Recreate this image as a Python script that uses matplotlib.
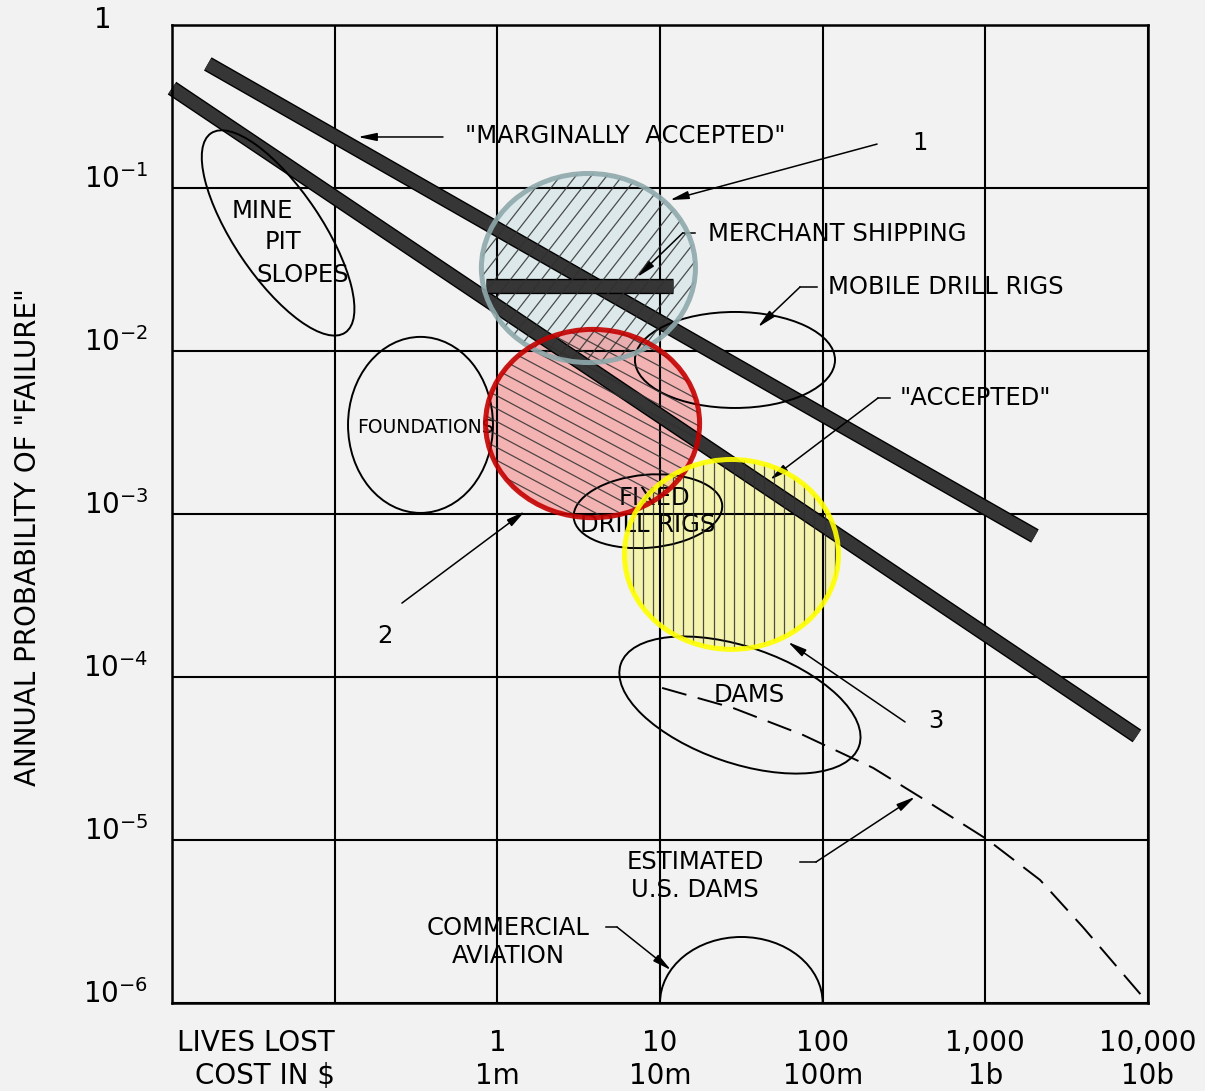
import numpy as np
import matplotlib
matplotlib.use('Agg')
import matplotlib.pyplot as plt
import matplotlib.patheffects as pe
from matplotlib.patches import Ellipse, Arc
from matplotlib.transforms import Affine2D
from matplotlib.ticker import NullLocator

# axis decades and their labels
x_decades = [1e-2, 1e-1, 1, 10, 100, 1000, 10000]
x_labels = ['', 'LIVES LOST\nCOST IN $', '1\n1m', '10\n10m', '100\n100m',
            '1,000\n1b', '10,000\n10b']
y_decades = [1, 1e-1, 1e-2, 1e-3, 1e-4, 1e-5, 1e-6]
y_labels = ['1', r'$10^{-1}$', r'$10^{-2}$', r'$10^{-3}$', r'$10^{-4}$',
            r'$10^{-5}$', r'$10^{-6}$']

# criteria lines
marginal_x = [0.0166, 2018]
marginal_y = [0.577, 7.33e-4]
accepted_x = [0.01, 8550]
accepted_y = [0.41, 4.35e-5]
shipping_x = [0.851, 12.0]
shipping_y = [0.0251, 0.0251]

# estimated U.S. dams
dams_x = [10.3, 28.1, 75.7, 204, 396, 1023, 2168, 3981, 10000]
dams_y = [8.57e-5, 6.46e-5, 4.41e-5, 2.77e-5, 1.84e-5, 1.01e-5, 5.69e-6, 2.92e-6, 1e-6]

# outlined regions: centre (x, y), size in decades, tilt
region_names = ['mine', 'foundations', 'mobile', 'fixed', 'dams']
region_cx = [0.0449, 0.337, 28.9, 8.43, 31.0]
region_cy = [0.0530, 3.52e-3, 8.81e-3, 1.04e-3, 6.73e-5]
region_w = [1.475, 0.891, 1.23, 0.916, 1.549]
region_h = [0.54, 1.080, 0.589, 0.448, 0.712]
region_tilt = [-56, 0, 0, 5, -19]

# highlighted zones 1, 2, 3
zone_cx = [3.63, 3.85, 27.5]
zone_cy = [0.0323, 3.59e-3, 5.65e-4]
zone_w = [1.316, 1.316, 1.316]
zone_h = [1.16, 1.155, 1.165]
zone_fill = ['#c8e0e4', '#f67676', '#f8f66e']
zone_edge = ['#8fa9ac', '#c40000', '#ffff00']
zone_hatch_angle = [52, -28, 90]
zone_hatch_step = [0.075, 0.07, 0.062]

bg = '#f2f2f2'
fig = plt.figure(figsize=(12.05, 10.91), dpi=100, facecolor=bg)
ax = fig.add_axes([172 / 1205, 1 - 1003 / 1091, 976 / 1205, 978 / 1091])
ax.set_facecolor(bg)
ax.set_xscale('log')
ax.set_yscale('log')

# log10 coordinates -> axes
dec = Affine2D().scale(1 / 6).translate(2 / 6, 1) + ax.transAxes

ax.set_axisbelow(True)
ax.grid(True, which='major', color='black', lw=1.5)
for s in ax.spines.values():
    s.set_linewidth(1.8)

band = [pe.Stroke(linewidth=11, foreground='black'), pe.Normal()]
ax.plot(marginal_x, marginal_y, color='#363636', lw=9, solid_capstyle='butt',
        path_effects=band, zorder=2, clip_on=False)
ax.plot(accepted_x, accepted_y, color='#363636', lw=9, solid_capstyle='butt',
        path_effects=band, zorder=2, clip_on=False)
ax.plot(shipping_x, shipping_y, color='#363636', lw=9, solid_capstyle='butt',
        path_effects=band, zorder=2)

ax.plot(dams_x, dams_y, color='black', lw=1.4, ls=(0, (13, 6)), zorder=2)

for cx, cy, w, h, t in zip(region_cx, region_cy, region_w, region_h, region_tilt):
    ax.add_patch(Ellipse((np.log10(cx), np.log10(cy)), w, h, angle=t, transform=dec,
                         fill=False, ec='black', lw=1.4, zorder=2))
# commercial aviation, sitting on the 1e-6 line between 10 and 100
ax.add_patch(Arc((1.5, -6), 1.0, 0.81, theta1=0, theta2=180, transform=dec,
                 ec='black', lw=1.4, zorder=2))


def hatch_lines(cx, cy, w, h, angle, step, clip):
    c = np.array([np.log10(cx), np.log10(cy)])
    r = max(w, h)
    t = np.radians(angle)
    d = np.array([np.cos(t), np.sin(t)])
    n = np.array([-np.sin(t), np.cos(t)])
    for s in np.arange(-r, r, step):
        a = c + s * n - r * d
        b = c + s * n + r * d
        ln, = ax.plot([a[0], b[0]], [a[1], b[1]], transform=dec, color='#303030',
                      lw=0.9, alpha=0.85, zorder=4)
        ln.set_clip_path(clip)


for i in range(3):
    centre = (np.log10(zone_cx[i]), np.log10(zone_cy[i]))
    fill = Ellipse(centre, zone_w[i], zone_h[i], transform=dec, fc=zone_fill[i],
                   ec='none', alpha=0.5, zorder=0.3)
    ax.add_patch(fill)
    hatch_lines(zone_cx[i], zone_cy[i], zone_w[i], zone_h[i],
                zone_hatch_angle[i], zone_hatch_step[i], fill)
    ax.add_patch(Ellipse(centre, zone_w[i], zone_h[i], transform=dec, fill=False,
                         ec=zone_edge[i], lw=3.6, alpha=0.9, zorder=5))

fs = 17.5
tkw = dict(fontsize=fs, color='black', zorder=3)
arrow_kw = dict(arrowstyle='-|>,head_length=0.7,head_width=0.15', color='black',
                lw=1.1, shrinkA=0, shrinkB=0, mutation_scale=16)


def arrow(x0, y0, x1, y1):
    ax.annotate('', xy=(x1, y1), xytext=(x0, y0), arrowprops=arrow_kw, zorder=3)


def leader(x0, x1, y, xt, yt):
    ax.plot([x0, x1], [y, y], color='black', lw=1.1, zorder=3)
    arrow(x1, y, xt, yt)


ax.text(6.10, 0.2084, '"MARGINALLY  ACCEPTED"', ha='center', va='center', **tkw)
arrow(0.4634, 0.2056, 0.139, 0.2056)

ax.text(396, 0.1888, '1', ha='center', va='center', **tkw)
arrow(216, 0.186, 11.5, 0.0843)

ax.text(19.7, 0.0522, 'MERCHANT SHIPPING', ha='left', va='center', **tkw)
leader(16.4, 13.8, 0.0530, 7.23, 0.0284)

ax.text(108, 0.0247, 'MOBILE DRILL RIGS', ha='left', va='center', **tkw)
leader(92.3, 72.6, 0.0247, 40.0, 0.0140)

ax.text(299, 5.15e-3, '"ACCEPTED"', ha='left', va='center', **tkw)
leader(259, 219, 5.15e-3, 47.4, 1.62e-3)

ax.text(0.204, 1.79e-4, '2', ha='center', va='center', **tkw)
arrow(0.259, 2.84e-4, 1.48, 1.04e-3)

ax.text(498, 5.37e-5, '3', ha='center', va='center', **tkw)
arrow(321, 5.30e-5, 61.2, 1.64e-4)

ax.text(0.0357, 0.0723, 'MINE', ha='center', va='center', **tkw)
ax.text(0.0481, 0.0467, 'PIT', ha='center', va='center', **tkw)
ax.text(0.0638, 0.0292, 'SLOPES', ha='center', va='center', **tkw)

ax.text(0.359, 3.37e-3, 'FOUNDATIONS', ha='center', va='center', fontsize=13.5,
        zorder=3)
ax.text(9.18, 1.25e-3, 'FIXED', ha='center', va='center', **tkw)
ax.text(8.43, 8.57e-4, 'DRILL RIGS', ha='center', va='center', **tkw)
ax.text(35.2, 7.76e-5, 'DAMS', ha='center', va='center', **tkw)

ax.text(16.4, 6.01e-6, 'ESTIMATED\nU.S. DAMS', ha='center', va='center', **tkw)
leader(72.6, 91.0, 7.33e-6, 370, 1.84e-5)

ax.text(1.16, 2.37e-6, 'COMMERCIAL\nAVIATION', ha='center', va='center', **tkw)
leader(4.66, 5.45, 2.92e-6, 11.7, 1.59e-6)

# axes ticks and labels
ax.set_xticks(x_decades, labels=x_labels, fontsize=20)
ax.set_yticks(y_decades, labels=[''] * len(y_decades))
ax.xaxis.set_minor_locator(NullLocator())
ax.yaxis.set_minor_locator(NullLocator())
ax.tick_params(which='both', length=0)
ax.tick_params(axis='x', pad=19)
lives = ax.get_xticklabels()[1]
lives.set_horizontalalignment('right')
lives.set_multialignment('right')

for yv, lab in zip(y_decades, y_labels):
    off, ha = ((-50, -2), 'center') if lab == '1' else ((-17, 0), 'right')
    ax.annotate(lab, xy=(0, yv), xycoords=ax.get_yaxis_transform(),
                xytext=off, textcoords='offset points', ha=ha, va='baseline',
                fontsize=20, annotation_clip=False)

fig.text(28 / 1205, 1 - 537 / 1091, 'ANNUAL PROBABILITY OF "FAILURE"', rotation=90,
         ha='center', va='center', fontsize=20)

ax.set_xlim(1e-2, 1e4)
ax.set_ylim(1e-6, 1)

fig.savefig('out.png', dpi=100, facecolor=bg)
